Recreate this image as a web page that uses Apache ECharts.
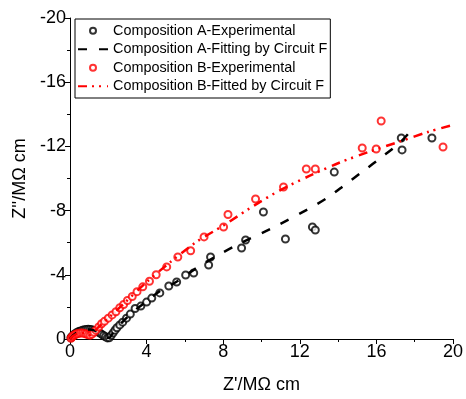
<!DOCTYPE html>
<html><head><meta charset="utf-8">
<script src="https://cdn.jsdelivr.net/npm/echarts@6/dist/echarts.min.js"></script>
<style>html,body{margin:0;padding:0;background:#fff}#c{width:466px;height:399px}</style>
</head><body><div id="c"></div>
<script>
const seriesNames = ['Composition A-Experimental','Composition A-Fitting by Circuit F','Composition B-Experimental','Composition B-Fitted by Circuit F'];
const xTicks = [0,4,8,12,16,20];
const yTicks = [0,-4,-8,-12,-16,-20];
// Composition A experimental [Z', Z'']
const aExp = [[0.05,-0.08],[0.1,-0.16],[0.18,-0.25],[0.26,-0.33],[0.35,-0.4],[0.45,-0.46],[0.55,-0.5],[0.65,-0.54],[0.75,-0.57],[0.85,-0.59],[0.95,-0.6],[1.05,-0.59],[1.15,-0.57],[1.25,-0.53],[1.35,-0.49],[1.45,-0.44],[1.55,-0.38],[1.65,-0.3],[1.75,-0.22],[1.85,-0.14],[1.95,-0.07],[2.05,-0.08],[2.15,-0.22],[2.25,-0.38],[2.35,-0.55],[2.45,-0.7],[2.6,-0.88],[2.75,-1.05],[2.95,-1.3],[3.15,-1.55],[3.4,-1.9],[3.7,-2.05],[4.0,-2.3],[4.27,-2.55],[4.69,-2.87],[5.16,-3.3],[5.57,-3.55],[6.04,-3.99],[6.46,-4.11],[7.24,-4.61],[7.34,-5.11],[8.96,-5.67],[9.17,-6.17],[10.1,-7.91],[11.25,-6.23],[12.66,-6.98],[12.81,-6.79],[13.8,-10.4],[17.3,-12.52],[17.34,-11.78],[18.9,-12.52]];
// Composition A fitting
const aFit = [[0,0],[0.1,-0.16],[0.3,-0.36],[0.5,-0.48],[0.75,-0.56],[1.0,-0.59],[1.25,-0.54],[1.5,-0.41],[1.75,-0.22],[1.95,-0.08],[2.05,-0.08],[2.2,-0.3],[2.5,-0.75],[2.9,-1.25],[3.4,-1.8],[4.0,-2.35],[4.65,-2.95],[5.6,-3.6],[6.7,-4.5],[7.7,-5.2],[8.7,-5.85],[10.7,-7.0],[12.6,-8.2],[13.5,-8.85],[14.4,-9.65],[15.3,-10.45],[16.3,-11.35],[17.2,-12.2],[17.76,-12.92]];
// Composition B experimental
const bExp = [[0.05,-0.05],[0.1,-0.12],[0.15,-0.18],[0.2,-0.23],[0.28,-0.28],[0.36,-0.32],[0.45,-0.35],[0.55,-0.37],[0.65,-0.37],[0.75,-0.35],[0.85,-0.31],[0.95,-0.26],[1.05,-0.24],[1.15,-0.3],[1.25,-0.42],[1.35,-0.55],[1.5,-0.75],[1.65,-0.95],[1.8,-1.1],[2.0,-1.3],[2.2,-1.5],[2.4,-1.7],[2.6,-1.95],[2.8,-2.15],[3.0,-2.4],[3.25,-2.65],[3.5,-2.95],[3.8,-3.25],[4.15,-3.6],[4.5,-4.0],[5.05,-4.49],[5.63,-5.11],[6.3,-5.5],[7.0,-6.36],[8.02,-6.98],[8.25,-7.76],[9.69,-8.72],[11.15,-9.47],[12.34,-10.59],[12.81,-10.59],[15.26,-11.9],[15.99,-11.84],[16.25,-13.58],[19.48,-11.96]];
// Composition B fitted
const bFit = [[0,0],[0.1,-0.14],[0.3,-0.29],[0.5,-0.36],[0.7,-0.37],[0.9,-0.31],[1.05,-0.26],[1.2,-0.38],[1.5,-0.75],[2.0,-1.3],[2.76,-2.15],[4.0,-3.55],[5.3,-4.85],[6.6,-6.05],[8.05,-7.1],[9.46,-8.2],[10.94,-9.25],[12.5,-10.16],[14.06,-10.98],[15.63,-11.67],[17.19,-12.29],[18.75,-12.92],[20,-13.33]];

const chart = echarts.init(document.getElementById('c'), null, {renderer:'canvas'});
const FONT = 'Liberation Sans';
chart.setOption({
  animation:false,
  backgroundColor:'#fff',
  grid:{left:70,right:12,top:18,bottom:60},
  legend:{
    orient:'vertical', left:75, top:19,
    data:[
      {name:seriesNames[0]},
      {name:seriesNames[1], itemStyle:{opacity:0}},
      {name:seriesNames[2]},
      {name:seriesNames[3], itemStyle:{opacity:0}}
    ],
    itemWidth:30, itemHeight:6, itemGap:3,
    padding:[4,3,4,2],
    borderColor:'#000', borderWidth:1, borderRadius:0,
    textStyle:{fontFamily:FONT, fontSize:14.4, color:'#000', lineHeight:15.5},
    selectedMode:false
  },
  xAxis:{
    type:'value', min:0, max:20, interval:4,
    name:"Z'/MΩ cm", nameLocation:'middle', nameGap:37,
    nameTextStyle:{fontFamily:FONT, fontSize:18, color:'#000'},
    axisLine:{show:true,lineStyle:{color:'#000',width:1}},
    axisTick:{show:true,inside:false,length:5,lineStyle:{color:'#000'}},
    minorTick:{show:true,splitNumber:2,length:3,lineStyle:{color:'#000'}},
    axisLabel:{fontFamily:FONT,fontSize:18,color:'#000',margin:4,formatter:v=>xTicks.includes(v)?String(v):''},
    splitLine:{show:false}
  },
  yAxis:{
    type:'value', min:-20, max:0, interval:4, inverse:true,
    name:"Z''/MΩ cm", nameLocation:'middle', nameGap:37, nameRotate:90,
    nameTextStyle:{fontFamily:FONT, fontSize:18, color:'#000'},
    axisLine:{show:true,onZero:false,lineStyle:{color:'#000',width:1}},
    axisTick:{show:true,inside:false,length:5,lineStyle:{color:'#000'}},
    minorTick:{show:true,splitNumber:2,length:3,lineStyle:{color:'#000'}},
    axisLabel:{fontFamily:FONT,fontSize:18,color:'#000',margin:4,formatter:v=>yTicks.includes(v)?String(v):''},
    splitLine:{show:false}
  },
  series:[
    {name:seriesNames[0], type:'scatter', data:aExp, symbol:'emptyCircle', symbolSize:7,
     itemStyle:{color:'#000',borderColor:'#000',borderWidth:1.1}},
    {name:seriesNames[1], type:'line', data:aFit, symbol:'none', smooth:0.3,
     lineStyle:{color:'#000',width:2.5,type:[9,12]}, itemStyle:{color:'#000'}},
    {name:seriesNames[2], type:'scatter', data:bExp, symbol:'emptyCircle', symbolSize:7,
     itemStyle:{color:'#ff0000',borderColor:'#ff0000',borderWidth:1}},
    {name:seriesNames[3], type:'line', data:bFit, symbol:'none', smooth:0.3,
     lineStyle:{color:'#ff0000',width:2.5,type:[9,5,2,5,2,6]}, itemStyle:{color:'#ff0000'}}
  ]
});
</script></body></html>
